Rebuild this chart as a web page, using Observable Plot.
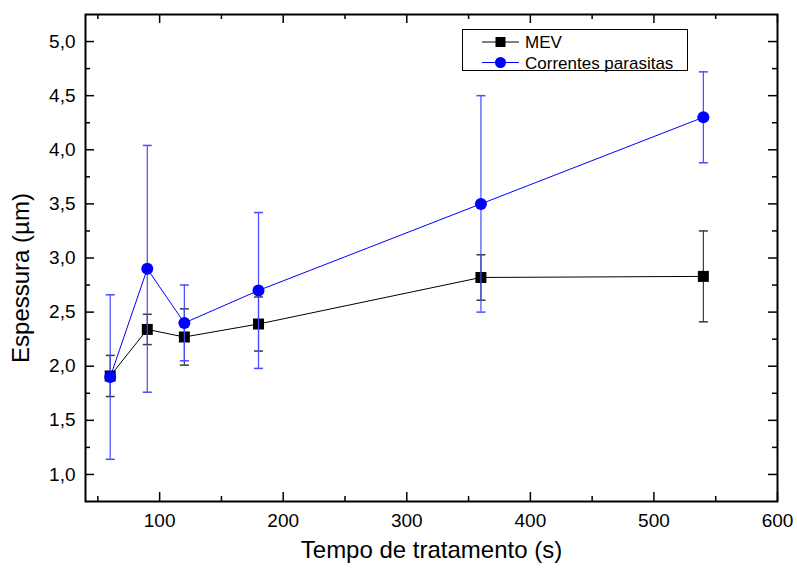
<!DOCTYPE html>
<html>
<head>
<meta charset="utf-8">
<script src="https://cdn.jsdelivr.net/npm/d3@7"></script>
<script src="https://cdn.jsdelivr.net/npm/@observablehq/plot@0.6"></script>
<style>
  html, body { margin: 0; padding: 0; background: #fff; }
  #wrap { position: relative; width: 797px; height: 571px; font-family: "Liberation Sans", Arial, sans-serif; }
  #legend { position: absolute; left: 0; top: 0; }
</style>
</head>
<body>
<div id="wrap"></div>
<script>
// ---- data ----
const tempos = [60, 90, 120, 180, 360, 540];
const mevValues = [1.91, 2.34, 2.27, 2.39, 2.82, 2.83];
const mevErrors = [0.19, 0.14, 0.26, 0.25, 0.21, 0.42];
const correntesValues = [1.90, 2.90, 2.40, 2.70, 3.50, 4.30];
const correntesErrors = [0.76, 1.14, 0.35, 0.72, 1.00, 0.42];
const seriesNames = ["MEV", "Correntes parasitas"];
const xMajorTicks = [100, 200, 300, 400, 500, 600];
const xMinorTicks = [50, 150, 250, 350, 450, 550];
const yMajorTicks = [1.0, 1.5, 2.0, 2.5, 3.0, 3.5, 4.0, 4.5, 5.0];
const yMinorTicks = [1.25, 1.75, 2.25, 2.75, 3.25, 3.75, 4.25, 4.75];
const xTitle = "Tempo de tratamento (s)";
const yTitle = "Espessura (µm)";

const mev = tempos.map((t, i) => ({t, v: mevValues[i], lo: mevValues[i] - mevErrors[i], hi: mevValues[i] + mevErrors[i]}));
const cor = tempos.map((t, i) => ({t, v: correntesValues[i], lo: correntesValues[i] - correntesErrors[i], hi: correntesValues[i] + correntesErrors[i]}));

const W = 797, H = 571;
const mL = 85, mR = 20, mT = 14, mB = 70;
const pw = W - mL - mR, ph = H - mT - mB;
const major = 9, minor = 5;

const capSymbol = {
  draw(context, size) {
    const w = Math.sqrt(size / Math.PI);
    context.moveTo(-w, 0);
    context.lineTo(w, 0);
  }
};
const fmt = d => d3.format(".1f")(d).replace(".", ",");

const blue = "#0000ff";
const blueErr = "#4a4aff";
const blackErr = "#3a3a3a";

const chart = Plot.plot({
  width: W, height: H,
  marginLeft: mL, marginRight: mR, marginTop: mT, marginBottom: mB,
  style: {fontFamily: "'Liberation Sans', Arial, sans-serif", background: "#fff", color: "#000"},
  x: {type: "linear", domain: [40, 600]},
  y: {type: "linear", domain: [0.75, 5.25]},
  marks: [
    // inward ticks on all four sides
    Plot.ruleX(xMajorTicks, {x: d => d, insetTop: ph - major, stroke: "#000", strokeWidth: 1.5}),
    Plot.ruleX(xMinorTicks, {x: d => d, insetTop: ph - minor, stroke: "#000", strokeWidth: 1.5}),
    Plot.ruleX(xMajorTicks, {x: d => d, insetBottom: ph - major, stroke: "#000", strokeWidth: 1.5}),
    Plot.ruleX(xMinorTicks, {x: d => d, insetBottom: ph - minor, stroke: "#000", strokeWidth: 1.5}),
    Plot.ruleY(yMajorTicks, {y: d => d, insetRight: pw - major, stroke: "#000", strokeWidth: 1.5}),
    Plot.ruleY(yMinorTicks, {y: d => d, insetRight: pw - minor, stroke: "#000", strokeWidth: 1.5}),
    Plot.ruleY(yMajorTicks, {y: d => d, insetLeft: pw - major, stroke: "#000", strokeWidth: 1.5}),
    Plot.ruleY(yMinorTicks, {y: d => d, insetLeft: pw - minor, stroke: "#000", strokeWidth: 1.5}),
    Plot.axisX({ticks: xMajorTicks, tickFormat: d => String(d), tickSize: 0, tickPadding: 12, fontSize: 19, label: null}),
    Plot.axisY({ticks: yMajorTicks, tickFormat: fmt, tickSize: 0, tickPadding: 10, fontSize: 19, label: null}),
    Plot.text([xTitle], {frameAnchor: "bottom", textAnchor: "middle", text: d => d, dy: 56, fontSize: 24}),
    Plot.text([yTitle], {frameAnchor: "left", textAnchor: "middle", text: d => d, rotate: -90, dx: -64, dy: 20, fontSize: 24}),
    // MEV series
    Plot.ruleX(mev, {x: "t", y1: "lo", y2: "hi", stroke: blackErr, strokeWidth: 1.2}),
    Plot.dot(mev, {x: "t", y: "lo", symbol: capSymbol, r: 4.5, stroke: blackErr, strokeWidth: 1.5, fill: "none"}),
    Plot.dot(mev, {x: "t", y: "hi", symbol: capSymbol, r: 4.5, stroke: blackErr, strokeWidth: 1.5, fill: "none"}),
    Plot.line(mev, {x: "t", y: "v", stroke: "#000", strokeWidth: 1}),
    Plot.dot(mev, {x: "t", y: "v", symbol: "square", r: 6.2, fill: "#000", stroke: "none"}),
    // Correntes parasitas series
    Plot.ruleX(cor, {x: "t", y1: "lo", y2: "hi", stroke: blueErr, strokeWidth: 1.2}),
    Plot.dot(cor, {x: "t", y: "lo", symbol: capSymbol, r: 4.5, stroke: blueErr, strokeWidth: 1.5, fill: "none"}),
    Plot.dot(cor, {x: "t", y: "hi", symbol: capSymbol, r: 4.5, stroke: blueErr, strokeWidth: 1.5, fill: "none"}),
    Plot.line(cor, {x: "t", y: "v", stroke: blue, strokeWidth: 1}),
    Plot.dot(cor, {x: "t", y: "v", r: 6, fill: blue, stroke: "none"}),
    Plot.frame({stroke: "#000", strokeWidth: 2})
  ]
});

const wrap = document.getElementById("wrap");
wrap.appendChild(chart);

// legend overlay
const lg = d3.select(wrap).append("svg")
  .attr("id", "legend").attr("width", W).attr("height", 80)
  .style("font-family", "'Liberation Sans', Arial, sans-serif");
lg.append("rect").attr("x", 462.5).attr("y", 29.5).attr("width", 225).attr("height", 41)
  .attr("fill", "#fff").attr("stroke", "#000").attr("stroke-width", 1);
const rows = [
  {name: seriesNames[0], color: "#000", sym: "square", y: 42},
  {name: seriesNames[1], color: blue, sym: "circle", y: 62.5}
];
rows.forEach(r => {
  lg.append("line").attr("x1", 482).attr("x2", 519).attr("y1", r.y).attr("y2", r.y)
    .attr("stroke", r.color).attr("stroke-width", 1);
  if (r.sym === "square") {
    lg.append("rect").attr("x", 500.5 - 5).attr("y", r.y - 5).attr("width", 10).attr("height", 10).attr("fill", r.color);
  } else {
    lg.append("circle").attr("cx", 500.5).attr("cy", r.y).attr("r", 5.5).attr("fill", r.color);
  }
  lg.append("text").attr("x", 525).attr("y", r.y).attr("dy", "0.36em")
    .attr("font-size", 17).attr("fill", "#000").text(r.name);
});
</script>
</body>
</html>
